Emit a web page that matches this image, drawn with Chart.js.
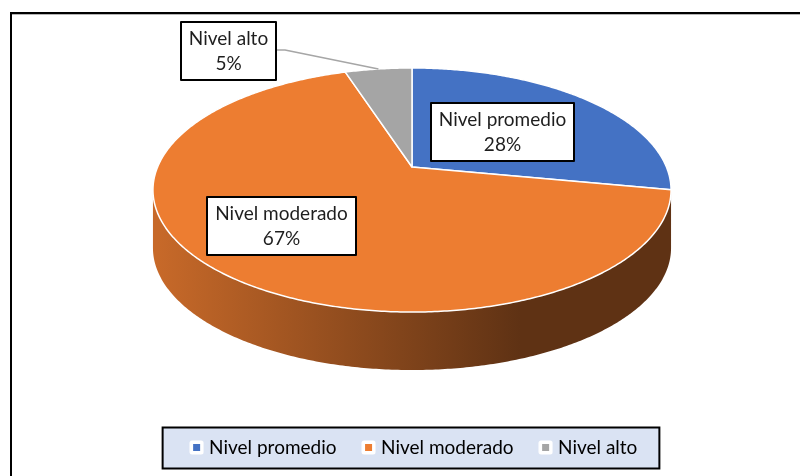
<!DOCTYPE html>
<html>
<head>
<meta charset="utf-8">
<script src="https://cdn.jsdelivr.net/npm/chart.js@4.4.1/dist/chart.umd.min.js"></script>
<style>
    html, body { margin: 0; padding: 0; background: #fff; }
    #pieChart { display: block; }
</style>
</head>
<body>
<canvas id="pieChart" width="800" height="476"></canvas>
<script>
const categories = ['Nivel promedio', 'Nivel moderado', 'Nivel alto'];
const percentages = [28, 67, 5];
const sliceColors = ['#4472c4', '#ed7d31', '#a5a5a5'];

// vista 3D (perspectiva del disco)
const VIEW = { offsetX: -3.5, cy: 167, rx: 254.4, ry: 117.7, tilt: 0.1885, depth: 58 };
// posicion de las etiquetas: fraccion del radio + ajuste en px
const LABEL_POS = [
    { f: 0.5, dx: -2, dy: 0 },
    { f: 0.654, dx: -9, dy: -5 },
    { f: 1, dx: -150, dy: -18, leader: true }
];
const FONT_FAMILY = 'Lato';
const FONT_SIZE = 19;

function shade(hex, k) {
    const n = parseInt(hex.slice(1), 16);
    const r = Math.round(((n >> 16) & 255) * k);
    const g = Math.round(((n >> 8) & 255) * k);
    const b = Math.round((n & 255) * k);
    return `rgb(${r},${g},${b})`;
}

function project(cx, a, f) {
    const u = Math.cos(a) * f, v = -Math.sin(a) * f;
    const w = 1 + VIEW.tilt * v;
    return [cx + VIEW.rx * u / w, VIEW.cy - VIEW.ry * v / w];
}

function rimPoints(cx, a0, a1, dy) {
    const n = Math.max(2, Math.ceil(Math.abs(a1 - a0) / 0.01));
    const pts = [];
    for (let i = 0; i <= n; i++) {
        const p = project(cx, a0 + (a1 - a0) * i / n, 1);
        pts.push([p[0], p[1] + dy]);
    }
    return pts;
}

function makeMarker(color) {
    const c = document.createElement('canvas');
    c.width = 15; c.height = 15;
    const g = c.getContext('2d');
    g.fillStyle = '#fff';
    g.beginPath();
    g.roundRect(0.5, 0.5, 14, 14, 2.5);
    g.fill();
    g.fillStyle = color;
    g.fillRect(4, 4, 7, 7);
    return c;
}
const markers = sliceColors.map(makeMarker);

const pie3d = {
    id: 'pie3d',
    beforeDraw(chart) {
        const ctx = chart.ctx;
        ctx.save();
        // marco
        ctx.fillStyle = '#b4b4b4';
        ctx.fillRect(12, 14, 788, 1);
        ctx.fillStyle = '#000';
        ctx.fillRect(10, 12, 790, 2);
        ctx.fillRect(10, 12, 2, 464);
        // caja de la leyenda
        const hb = chart.legend.legendHitBoxes;
        if (hb && hb.length) {
            const last = hb[hb.length - 1];
            const L = hb[0].left - 31, R = last.left + last.width + 22;
            const midY = hb[0].top + hb[0].height / 2;
            ctx.fillStyle = '#dae3f3';
            ctx.fillRect(L, midY - 20, R - L, 41);
            ctx.strokeStyle = '#000';
            ctx.lineWidth = 2;
            ctx.strokeRect(L, midY - 20, R - L, 41);
        }
        ctx.restore();
    },
    beforeDatasetsDraw(chart) {
        const ctx = chart.ctx;
        const arcs = chart.getDatasetMeta(0).data;
        const cx = arcs[0].x + VIEW.offsetX;
        const s1 = Math.acos(-VIEW.tilt) - Math.PI / 2;
        const s2 = 1.5 * Math.PI - Math.acos(-VIEW.tilt);
        ctx.save();

        // lateral
        arcs.forEach((arc, i) => {
            const a0 = Math.max(arc.startAngle, s1), a1 = Math.min(arc.endAngle, s2);
            if (a1 <= a0) return;
            const pts = rimPoints(cx, a0, a1, 0).concat(rimPoints(cx, a1, a0, VIEW.depth));
            const grad = ctx.createLinearGradient(cx - VIEW.rx, 0, cx + 108, 0);
            grad.addColorStop(0, shade(sliceColors[i], 0.84));
            grad.addColorStop(1, shade(sliceColors[i], 0.40));
            ctx.beginPath();
            pts.forEach((p, j) => j ? ctx.lineTo(p[0], p[1]) : ctx.moveTo(p[0], p[1]));
            ctx.closePath();
            ctx.fillStyle = grad;
            ctx.fill();
        });

        // cara superior
        const c = project(cx, 0, 0);
        arcs.forEach((arc, i) => {
            const pts = rimPoints(cx, arc.startAngle, arc.endAngle, 0);
            ctx.beginPath();
            ctx.moveTo(c[0], c[1]);
            pts.forEach(p => ctx.lineTo(p[0], p[1]));
            ctx.closePath();
            ctx.fillStyle = sliceColors[i];
            ctx.fill();
            ctx.strokeStyle = '#fff';
            ctx.lineWidth = 1.5;
            ctx.lineJoin = 'round';
            ctx.stroke();
        });

        // etiquetas
        ctx.font = `${FONT_SIZE}px ${FONT_FAMILY}`;
        ctx.textAlign = 'center';
        ctx.textBaseline = 'middle';
        arcs.forEach((arc, i) => {
            const pos = LABEL_POS[i];
            const mid = (arc.startAngle + arc.endAngle) / 2;
            const anchor = project(cx, mid, pos.f);
            const lx = anchor[0] + pos.dx, ly = anchor[1] + pos.dy;
            const lines = [categories[i], percentages[i] + '%'];
            const tw = Math.max(...lines.map(t => ctx.measureText(t).width));
            const bw = Math.round(tw + 16), bh = 58;
            const bx = Math.round(lx - bw / 2), by = Math.round(ly - bh / 2);
            if (pos.leader) {
                ctx.beginPath();
                ctx.moveTo(anchor[0], anchor[1]);
                ctx.lineTo(bx + bw + 9, ly - 1);
                ctx.lineTo(bx + bw, ly - 1);
                ctx.strokeStyle = '#a6a6a6';
                ctx.lineWidth = 1.5;
                ctx.stroke();
            }
            ctx.fillStyle = '#fff';
            ctx.fillRect(bx, by, bw, bh);
            ctx.strokeStyle = '#000';
            ctx.lineWidth = 2;
            ctx.strokeRect(bx, by, bw, bh);
            ctx.fillStyle = '#1e1e1e';
            lines.forEach((t, j) => ctx.fillText(t, bx + bw / 2, by + 4 + 12.5 + j * 25));
        });
        ctx.restore();
        return false;
    }
};

new Chart(document.getElementById('pieChart'), {
    type: 'pie',
    data: {
        labels: categories,
        datasets: [{
            data: percentages,
            backgroundColor: sliceColors,
            borderColor: '#fff',
            borderWidth: 1.5
        }]
    },
    options: {
        responsive: false,
        animation: false,
        layout: { padding: { left: 31, right: 0, top: 20, bottom: 9 } },
        plugins: {
            tooltip: { enabled: false },
            legend: {
                position: 'bottom',
                labels: {
                    usePointStyle: true,
                    pointStyleWidth: 6,
                    padding: 29,
                    color: '#262626',
                    font: { family: FONT_FAMILY, size: FONT_SIZE },
                    generateLabels: () => categories.map((c, i) => ({
                        text: c,
                        pointStyle: markers[i],
                        fillStyle: sliceColors[i],
                        strokeStyle: 'transparent',
                        lineWidth: 0,
                        hidden: false,
                        index: i
                    }))
                }
            }
        }
    },
    plugins: [pie3d]
});
</script>
</body>
</html>
